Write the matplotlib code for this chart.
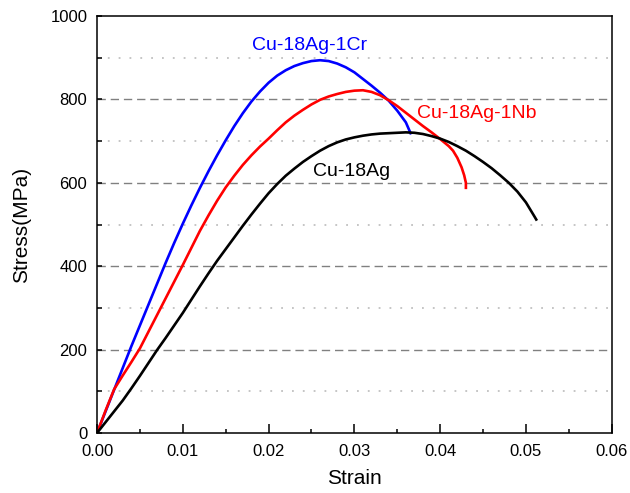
import matplotlib
matplotlib.use('Agg')
import matplotlib.pyplot as plt
from matplotlib.ticker import MultipleLocator, FormatStrFormatter

plt.rcParams['font.family'] = ['Liberation Sans', 'DejaVu Sans']

# Cu-18Ag-1Cr (blue)
cr_strain = [0, 0.001, 0.002, 0.003, 0.004, 0.005, 0.006, 0.007, 0.008, 0.009,
             0.010, 0.011, 0.012, 0.013, 0.014, 0.015, 0.016, 0.017, 0.018, 0.019,
             0.020, 0.021, 0.022, 0.023, 0.024, 0.025, 0.026, 0.027, 0.028, 0.029,
             0.030, 0.031, 0.032, 0.033, 0.034, 0.035, 0.036, 0.03655]
cr_stress = [0, 52, 104, 156, 208, 258, 308, 358, 408, 456,
             502, 546, 588, 628, 666, 702, 736, 767, 795, 819,
             840, 857, 870, 880, 887, 892, 894, 892, 886, 877,
             865, 849, 833, 816, 797, 773, 745, 719]

# Cu-18Ag-1Nb (red)
nb_strain = [0, 0.001, 0.002, 0.003, 0.004, 0.005, 0.006, 0.007, 0.008, 0.009,
             0.010, 0.011, 0.012, 0.013, 0.014, 0.015, 0.016, 0.017, 0.018, 0.019,
             0.020, 0.021, 0.022, 0.023, 0.024, 0.025, 0.026, 0.027, 0.028, 0.029,
             0.030, 0.031, 0.032, 0.033, 0.034, 0.035, 0.036, 0.037, 0.038, 0.039,
             0.040, 0.041, 0.0415, 0.042, 0.0425, 0.0428, 0.0430, 0.0430]
nb_stress = [0, 54, 105, 138, 170, 203, 243, 283, 323, 363,
             403, 444, 485, 522, 557, 589, 617, 643, 666, 687,
             706, 726, 745, 761, 775, 788, 799, 807, 813, 818,
             821, 822, 818, 810, 798, 784, 768, 752, 736, 721,
             705, 688, 677, 660, 637, 618, 600, 588]

# Cu-18Ag (black)
ag_strain = [0, 0.001, 0.002, 0.003, 0.004, 0.005, 0.006, 0.007, 0.008, 0.009,
             0.010, 0.011, 0.012, 0.013, 0.014, 0.015, 0.016, 0.017, 0.018, 0.019,
             0.020, 0.021, 0.022, 0.023, 0.024, 0.025, 0.026, 0.027, 0.028, 0.029,
             0.030, 0.031, 0.032, 0.033, 0.034, 0.035, 0.036, 0.037, 0.038, 0.039,
             0.040, 0.041, 0.042, 0.043, 0.044, 0.045, 0.046, 0.047, 0.048, 0.049,
             0.050, 0.051, 0.0512]
ag_stress = [0, 26, 52, 78, 107, 137, 168, 199, 228, 258,
             288, 320, 352, 383, 413, 441, 469, 497, 524, 550,
             575, 597, 617, 634, 650, 664, 677, 688, 697, 704,
             709, 713, 716, 718, 719, 720, 721, 720, 717, 712,
             706, 698, 688, 677, 664, 650, 635, 618, 600, 579,
             553, 519, 512]

labels = ['Cu-18Ag-1Cr', 'Cu-18Ag-1Nb', 'Cu-18Ag']
label_pos = [(0.0248, 930), (0.0443, 767), (0.0297, 626)]
colors = ['#0000ff', '#ff0000', '#000000']

fig = plt.figure(figsize=(6.3, 4.93), dpi=100)
ax = fig.add_axes([0.154, 0.1217, 0.817, 0.8458])

# grid: dashed at major, dotted at minor
for v in [200, 400, 600, 800]:
    ax.axhline(v, color='#808080', lw=1.0, ls=(0, (6, 3.5)), zorder=0)
for v in [100, 300, 500, 700, 900]:
    ax.axhline(v, color='#c0c0c0', lw=1.3, ls=(0, (1, 5)), zorder=0)

series = [(cr_strain, cr_stress), (nb_strain, nb_stress), (ag_strain, ag_stress)]
for (xs, ys), c in zip(series, colors):
    ax.plot(xs, ys, color=c, lw=1.9, solid_joinstyle='round')

for lab, (x, y), c in zip(labels, label_pos, colors):
    ax.text(x, y, lab, color=c, fontsize=14, ha='center', va='center')

ax.set_xlim(0, 0.06)
ax.set_ylim(0, 1000)
ax.xaxis.set_major_locator(MultipleLocator(0.01))
ax.xaxis.set_minor_locator(MultipleLocator(0.005))
ax.yaxis.set_major_locator(MultipleLocator(200))
ax.yaxis.set_minor_locator(MultipleLocator(100))
ax.xaxis.set_major_formatter(FormatStrFormatter('%.2f'))

ax.tick_params(axis='both', which='both', direction='in', top=False, right=False,
               labelsize=12, width=1.1)
ax.tick_params(axis='x', which='major', length=6.5, pad=8)
ax.tick_params(axis='x', which='minor', length=3)
ax.tick_params(axis='y', which='major', length=3.5, pad=7)
ax.tick_params(axis='y', which='minor', length=3.5)

for s in ax.spines.values():
    s.set_linewidth(1.1)

ax.set_xlabel('Strain', fontsize=15, labelpad=7)
ax.set_ylabel('Stress(MPa)', fontsize=15, labelpad=14)

fig.savefig('out.png', dpi=100)
